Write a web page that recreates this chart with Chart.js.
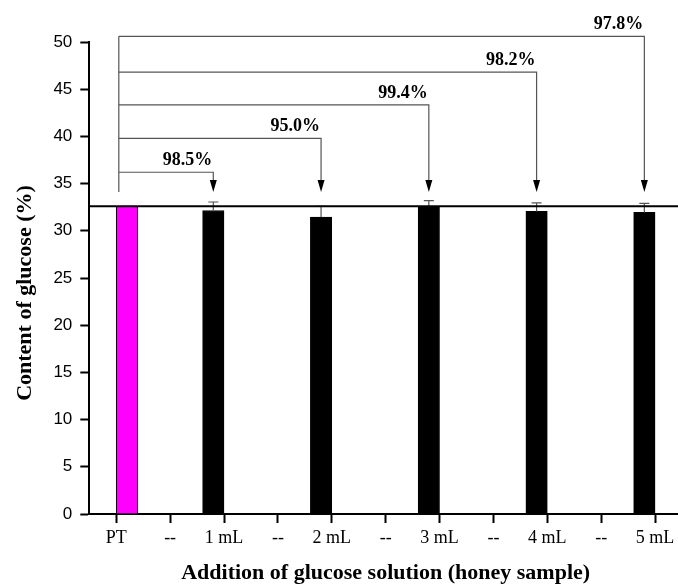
<!DOCTYPE html>
<html>
<head>
<meta charset="utf-8">
<script src="https://cdn.jsdelivr.net/npm/chart.js@4.4.1/dist/chart.umd.min.js"></script>
<style>
  html, body { margin: 0; padding: 0; background: #fff; overflow: hidden; width: 678px; height: 584px; }
  canvas { display: block; }
</style>
</head>
<body>
<canvas id="chart" width="682" height="584" style="width:682px;height:584px"></canvas>
<script>
// Glucose content of the pure standard (PT) and honey spiked with 1–5 mL glucose solution
const categories = ['PT', '--', '1 mL', '--', '2 mL', '--', '3 mL', '--', '4 mL', '--', '5 mL'];
const ptValue = 32.6;
const spikedLabels = ['1 mL', '2 mL', '3 mL', '4 mL', '5 mL'];
const spikedValues = [32.15, 31.45, 32.5, 32.05, 31.95];
const spikedErrors = [0.9, 1.15, 0.7, 0.9, 0.95];
const recoveries = ['98.5%', '95.0%', '99.4%', '98.2%', '97.8%'];
const yTickMin = 0, yTickMax = 50, yTickStep = 5;

const spikedData = categories.map(c => {
  const k = spikedLabels.indexOf(c);
  return k >= 0 ? spikedValues[k] : null;
});
const spikedErr = categories.map(c => {
  const k = spikedLabels.indexOf(c);
  return k >= 0 ? spikedErrors[k] : null;
});
const ptData = categories.map(c => (c === 'PT' ? ptValue : null));

const serif = '"Liberation Serif", "Times New Roman", serif';
const sans = '"Liberation Sans", Arial, sans-serif';

const annotations = {
  id: 'annotations',
  afterDatasetsDraw(chart, args, opts) {
    const ctx = chart.ctx;
    const y = chart.scales.y;
    const area = chart.chartArea;
    const bars = chart.getDatasetMeta(0).data;
    const ptBar = chart.getDatasetMeta(1).data[categories.indexOf('PT')];

    ctx.save();
    // error bars (upper half)
    ctx.strokeStyle = '#555';
    ctx.lineWidth = 1.2;
    spikedData.forEach((v, i) => {
      if (v === null) return;
      const el = bars[i];
      const top = y.getPixelForValue(v + spikedErr[i]);
      ctx.beginPath();
      ctx.moveTo(el.x, el.y);
      ctx.lineTo(el.x, top);
      ctx.moveTo(el.x - 5, top);
      ctx.lineTo(el.x + 5, top);
      ctx.stroke();
    });

    // reference line at PT level
    const refY = y.getPixelForValue(ptValue);
    ctx.strokeStyle = '#000';
    ctx.lineWidth = 2;
    ctx.beginPath();
    ctx.moveTo(area.left, refY);
    ctx.lineTo(chart.width, refY);
    ctx.stroke();

    // recovery brackets from PT to each spiked sample
    const tipY = y.getPixelForValue(opts.arrowTip);
    const leftX = ptBar.x - ptBar.width * 0.38;
    const levels = opts.levels.map(v => y.getPixelForValue(v));
    ctx.strokeStyle = '#555';
    ctx.lineWidth = 1.2;
    ctx.beginPath();
    ctx.moveTo(leftX, levels[levels.length - 1]);
    ctx.lineTo(leftX, tipY);
    ctx.stroke();

    let k = 0;
    spikedData.forEach((v, i) => {
      if (v === null) return;
      const ax = bars[i].x;
      const ly = levels[k];
      ctx.strokeStyle = '#555';
      ctx.lineWidth = 1.2;
      ctx.beginPath();
      ctx.moveTo(leftX, ly);
      ctx.lineTo(ax, ly);
      ctx.lineTo(ax, tipY - 11);
      ctx.stroke();
      ctx.fillStyle = '#000';
      ctx.beginPath();
      ctx.moveTo(ax - 3.5, tipY - 12);
      ctx.lineTo(ax + 3.5, tipY - 12);
      ctx.lineTo(ax, tipY);
      ctx.closePath();
      ctx.fill();
      ctx.font = 'bold 18px ' + serif;
      ctx.textAlign = 'right';
      ctx.textBaseline = 'alphabetic';
      ctx.fillText(recoveries[k], ax - 1, ly - 7);
      k++;
    });
    ctx.restore();
  },
  afterDraw(chart) {
    const ctx = chart.ctx;
    const area = chart.chartArea;
    ctx.save();
    ctx.fillStyle = '#000';
    ctx.font = 'bold 22px ' + serif;
    ctx.textAlign = 'center';
    ctx.textBaseline = 'alphabetic';
    ctx.fillText('Addition of glucose solution (honey sample)', (area.left + area.right) / 2, 579);
    ctx.translate(31, 293);
    ctx.rotate(-Math.PI / 2);
    ctx.fillText('Content of glucose (%)', 0, 0);
    ctx.restore();
  }
};

new Chart(document.getElementById('chart'), {
  type: 'bar',
  data: {
    labels: categories,
    datasets: [
      {
        label: 'Spiked honey',
        data: spikedData,
        backgroundColor: '#000',
        borderColor: '#000',
        borderWidth: 1,
        barThickness: 21.4
      },
      {
        label: 'PT',
        data: ptData,
        backgroundColor: '#ff00ff',
        borderColor: '#000',
        borderWidth: 1,
        barThickness: 21.4
      }
    ]
  },
  options: {
    responsive: false,
    animation: false,
    layout: { padding: { top: 42, left: 0, right: 0, bottom: 0 } },
    plugins: {
      legend: { display: false },
      tooltip: { enabled: false },
      annotations: {
        arrowTip: 34.1,
        levels: [36.2, 39.8, 43.35, 46.8, 50.6]
      }
    },
    scales: {
      x: {
        type: 'category',
        offset: true,
        grid: {
          display: true,
          drawOnChartArea: false,
          drawTicks: true,
          tickLength: 9,
          tickWidth: 2,
          tickColor: '#000',
          offset: false
        },
        border: { display: true, color: '#000', width: 2 },
        ticks: {
          color: '#000',
          font: { family: serif, size: 18 },
          padding: 4,
          maxRotation: 0,
          autoSkip: false
        },
        afterFit(scale) { scale.height = 70; }
      },
      y: {
        min: yTickMin,
        max: yTickMax,
        grid: {
          display: true,
          drawOnChartArea: false,
          drawTicks: true,
          tickLength: 9,
          tickWidth: 2,
          tickColor: '#000'
        },
        border: { display: true, color: '#000', width: 2 },
        ticks: {
          stepSize: yTickStep,
          color: '#000',
          font: { family: sans, size: 17 },
          padding: 8
        },
        afterFit(scale) { scale.width = 89.3; }
      }
    }
  },
  plugins: [annotations]
});
</script>
</body>
</html>
